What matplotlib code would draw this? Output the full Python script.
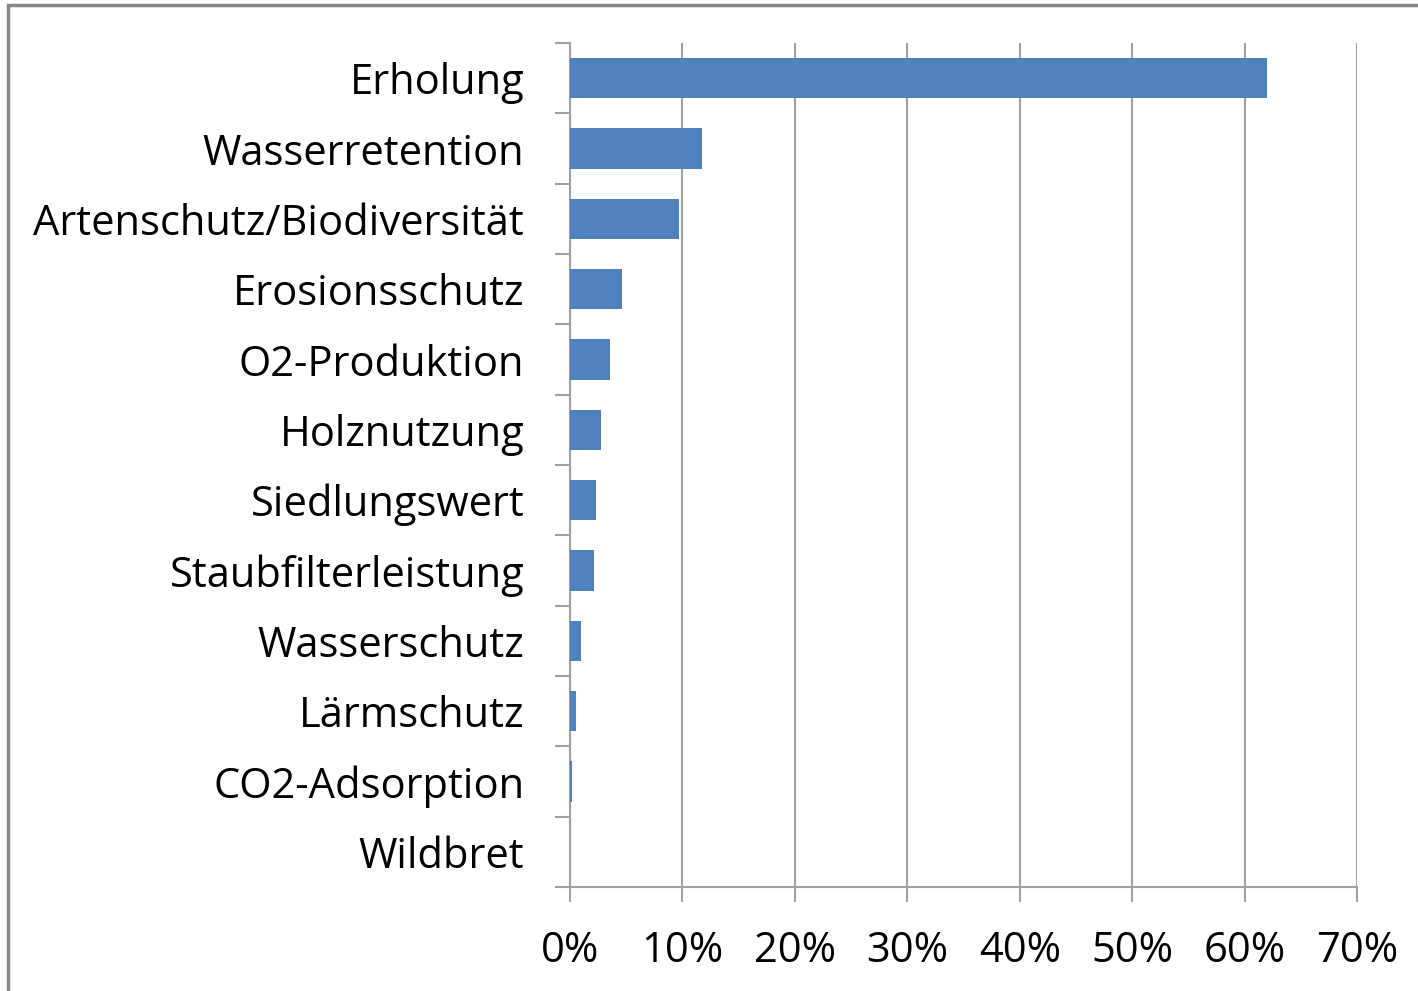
import numpy as np
import matplotlib.pyplot as plt
from matplotlib.patches import Rectangle
from matplotlib.ticker import FixedLocator, PercentFormatter

# Anteil der Nennungen je Waldleistung
kategorien = ["Erholung", "Wasserretention", "Artenschutz/Biodiversität",
              "Erosionsschutz", "O2-Produktion", "Holznutzung", "Siedlungswert",
              "Staubfilterleistung", "Wasserschutz", "Lärmschutz",
              "CO2-Adsorption", "Wildbret"]
anteile = [62.0, 11.7, 9.7, 4.6, 3.6, 2.75, 2.3, 2.1, 1.0, 0.5, 0.2, 0.0]
x_ticks = [0, 10, 20, 30, 40, 50, 60, 70]

plt.rcParams['font.family'] = ['Open Sans', 'DejaVu Sans']
grau = '#a0a0a0'

fig = plt.figure(figsize=(14.18, 9.91), dpi=100)
ax = fig.add_axes([570 / 1418, 1 - 887 / 991, 787 / 1418, 844 / 991])

y = np.arange(len(kategorien))
ax.barh(y, anteile, height=0.57, color='#4f81bd', linewidth=0, zorder=3)

ax.set_xlim(0, 70)
ax.set_ylim(len(kategorien) - 0.5, -0.5)
ax.set_xticks(x_ticks)
ax.xaxis.set_major_formatter(PercentFormatter(decimals=0))
ax.set_yticks(y)
ax.set_yticklabels(kategorien)
ax.yaxis.set_minor_locator(FixedLocator(np.arange(-0.5, len(kategorien), 1)))

ax.grid(axis='x', color=grau, linewidth=1.5, zorder=0)
for s in ['top', 'right']:
    ax.spines[s].set_visible(False)
for s in ['left', 'bottom']:
    ax.spines[s].set_color(grau)
    ax.spines[s].set_linewidth(1.5)

ax.tick_params(axis='x', direction='out', length=11, width=1.5, color=grau,
               labelsize=30, pad=20)
ax.tick_params(axis='y', which='major', length=0, labelsize=30, pad=33)
ax.tick_params(axis='y', which='minor', direction='out', length=11,
               width=1.5, color=grau)

# grauer Rahmen um die Grafik
fig.patches.append(Rectangle((8 / 1418, -0.1), 1.2, 1.1 - 5.5 / 991,
                             transform=fig.transFigure, fill=False,
                             edgecolor='#888888', linewidth=2.5))

fig.savefig("out.png", dpi=100)
